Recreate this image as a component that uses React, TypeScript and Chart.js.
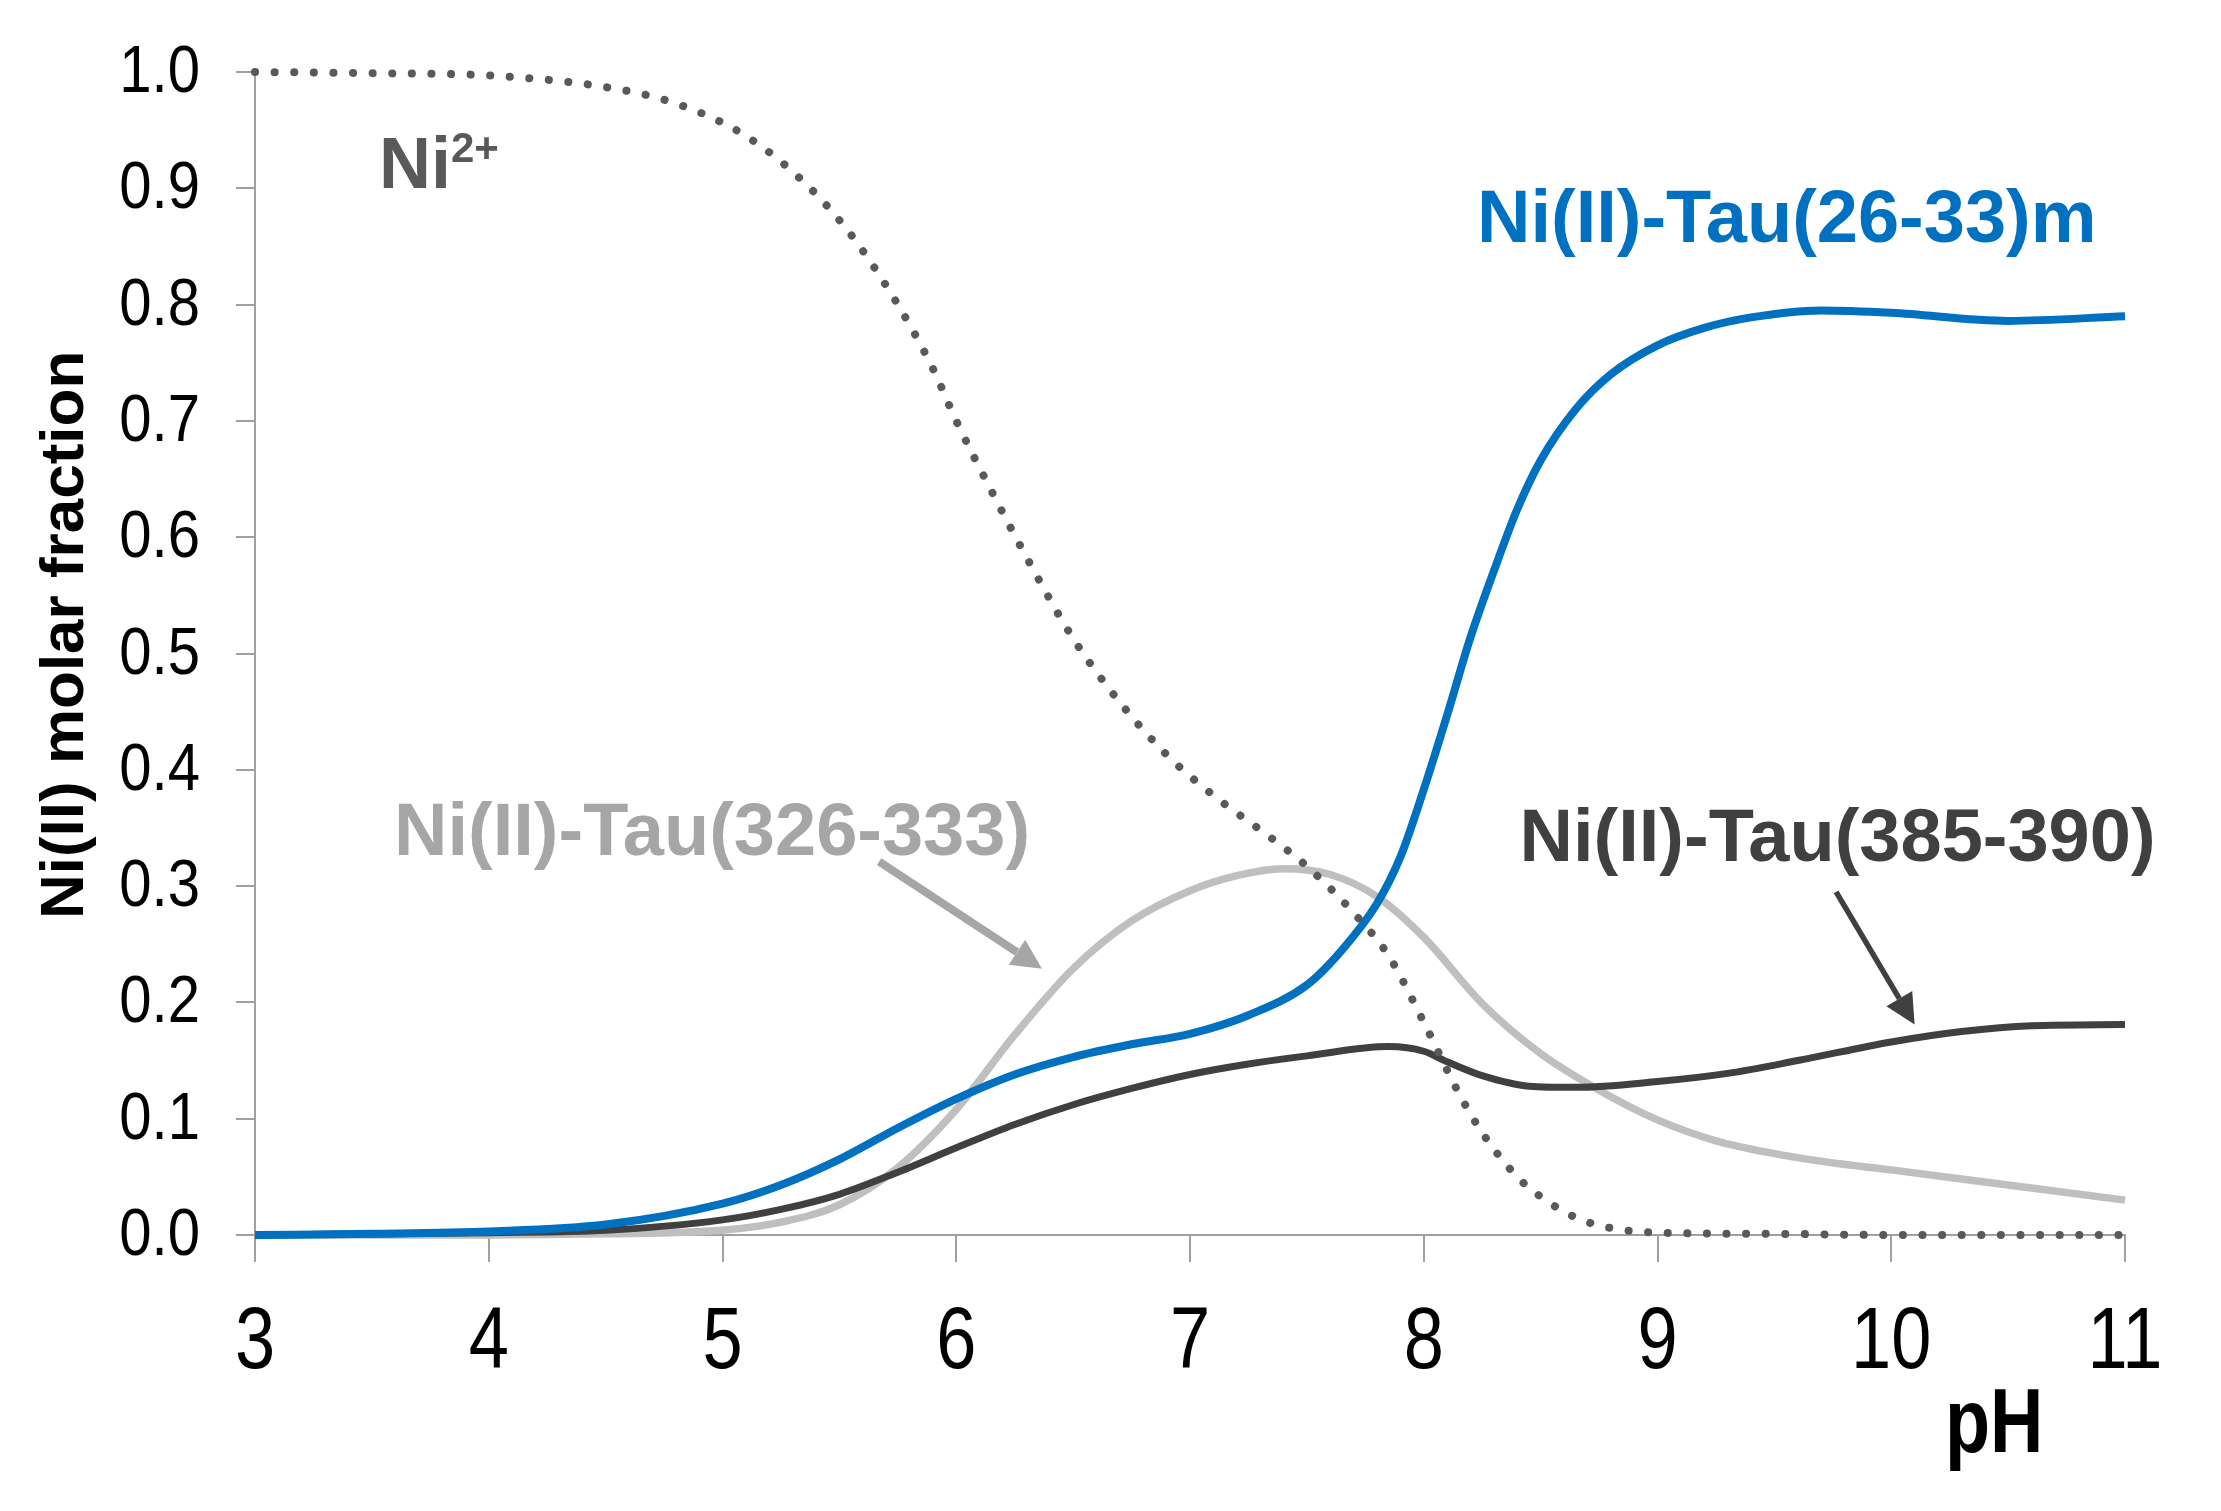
import React, { useEffect, useRef } from 'react';
import { Chart, registerables } from 'chart.js';

Chart.register(...registerables);

// ---------- data ----------
const PH_TICKS = [3, 4, 5, 6, 7, 8, 9, 10, 11];
const FRACTION_TICKS = [0, 0.1, 0.2, 0.3, 0.4, 0.5, 0.6, 0.7, 0.8, 0.9, 1.0];

const NI_FREE_PH = [3, 3.5, 4, 4.5, 4.8, 5.1, 5.35, 5.55, 5.75, 5.9, 6.0, 6.15, 6.3, 6.5, 6.7, 6.9, 7.1, 7.35, 7.5, 7.7, 7.85, 8.0, 8.15, 8.25, 8.4, 8.5, 8.65, 8.8, 9, 9.5, 10, 10.5, 11];
const NI_FREE = [1.0, 0.999, 0.997, 0.987, 0.973, 0.945, 0.905, 0.86, 0.8, 0.745, 0.7, 0.64, 0.583, 0.513, 0.458, 0.413, 0.378, 0.341, 0.317, 0.277, 0.24, 0.183, 0.122, 0.088, 0.05, 0.033, 0.015, 0.006, 0.002, 0.001, 0, 0, 0];

const TAU_26_33_PH = [3, 3.5, 4, 4.5, 5, 5.25, 5.5, 5.75, 6.0, 6.25, 6.5, 6.75, 7.0, 7.25, 7.5, 7.65, 7.8, 7.9, 8.0, 8.1, 8.2, 8.3, 8.4, 8.5, 8.65, 8.8, 9.0, 9.2, 9.4, 9.7, 10, 10.5, 11];
const TAU_26_33 = [0, 0.001, 0.003, 0.009, 0.027, 0.043, 0.065, 0.092, 0.117, 0.138, 0.153, 0.164, 0.173, 0.189, 0.215, 0.245, 0.285, 0.325, 0.383, 0.447, 0.514, 0.571, 0.624, 0.666, 0.71, 0.74, 0.765, 0.78, 0.789, 0.795, 0.793, 0.786, 0.79];

const TAU_385_390_PH = [3, 4, 4.5, 5, 5.25, 5.5, 5.75, 6.0, 6.25, 6.5, 6.75, 7.0, 7.25, 7.5, 7.85, 8.0, 8.1, 8.25, 8.45, 8.65, 9, 9.3, 9.6, 10, 10.3, 10.6, 11];
const TAU_385_390 = [0, 0.002, 0.004, 0.013, 0.022, 0.035, 0.054, 0.075, 0.095, 0.112, 0.126, 0.138, 0.147, 0.154, 0.162, 0.158, 0.149, 0.137, 0.128, 0.127, 0.132, 0.139, 0.15, 0.166, 0.175, 0.18, 0.181];

const TAU_326_333_PH = [3, 4, 4.5, 5, 5.25, 5.5, 5.75, 6.0, 6.25, 6.5, 6.75, 7.0, 7.2, 7.4, 7.6, 7.8, 8.0, 8.25, 8.5, 8.72, 9, 9.25, 9.5, 9.75, 10, 10.5, 11];
const TAU_326_333 = [0, 0, 0.001, 0.004, 0.011, 0.026, 0.058, 0.108, 0.172, 0.229, 0.27, 0.296, 0.309, 0.315, 0.31, 0.291, 0.256, 0.199, 0.156, 0.128, 0.099, 0.081, 0.07, 0.062, 0.056, 0.043, 0.03];

const SERIES_NAMES = ['Ni2+', 'Ni(II)-Tau(26-33)m', 'Ni(II)-Tau(385-390)', 'Ni(II)-Tau(326-333)'];

// ---------- styles ----------
const FONT = "'Liberation Sans', Arial, sans-serif";
const X_NARROW = 0.82;
const Y_NARROW = 0.88;
const BLUE = '#0070C0';
const DARK = '#404040';
const LIGHT = '#BFBFBF';
const LIGHT_TEXT = '#A6A6A6';
const DOTS = '#595959';
const AXIS = '#A0A0A0';

// annotation anchors in data units (pH, fraction)
const LABELS = [
  { text: 'Ni(II)-Tau(26-33)m', ph: 8.228, f: 0.854, color: BLUE },
  { text: 'Ni(II)-Tau(326-333)', ph: 3.595, f: 0.327, color: LIGHT_TEXT },
  { text: 'Ni(II)-Tau(385-390)', ph: 8.41, f: 0.322, color: DARK },
];
const ARROWS = [
  { from: [5.67, 0.321], to: [6.367, 0.229], color: LIGHT_TEXT, width: 8 },
  { from: [9.764, 0.295], to: [10.1, 0.181], color: DARK, width: 5.5 },
];
const NI_LABEL = { ph: 3.53, f: 0.9, supPh: 3.838, supF: 0.923 };

function pts(xs: number[], ys: number[]) {
  return xs.map((x, i) => ({ x, y: ys[i] }));
}

function narrowText(ctx: CanvasRenderingContext2D, text: string, px: number, py: number, align: CanvasTextAlign, k: number) {
  ctx.save();
  ctx.translate(px, py);
  ctx.scale(k, 1);
  ctx.textAlign = align;
  ctx.fillText(text, 0, 0);
  ctx.restore();
}

const annotations = {
  id: 'annotations',
  afterDraw(chart: any) {
    const { ctx, scales, chartArea } = chart;
    const x = scales.x;
    const y = scales.y;
    ctx.save();
    ctx.textBaseline = 'alphabetic';
    // tick labels (from the scales' own ticks)
    ctx.fillStyle = '#000000';
    ctx.font = `88px ${FONT}`;
    for (const t of x.ticks) {
      narrowText(ctx, String(t.value), x.getPixelForValue(t.value), chartArea.bottom + 133, 'center', X_NARROW);
    }
    ctx.font = `66px ${FONT}`;
    for (const t of y.ticks) {
      narrowText(ctx, Number(t.value).toFixed(1), chartArea.left - 55, y.getPixelForValue(t.value) + 20, 'right', Y_NARROW);
    }
    // axis titles
    ctx.font = `bold 90px ${FONT}`;
    narrowText(ctx, 'pH', x.getPixelForValue(10.23), chartArea.bottom + 217, 'left', X_NARROW);
    ctx.save();
    ctx.translate(chartArea.left - 189, y.getPixelForValue(0.516));
    ctx.rotate(-Math.PI / 2);
    ctx.textAlign = 'center';
    ctx.textBaseline = 'middle';
    ctx.font = `bold 62px ${FONT}`;
    ctx.fillText('Ni(II) molar fraction', 0, 0);
    ctx.restore();

    ctx.textAlign = 'left';
    // series labels
    ctx.font = `bold 74px ${FONT}`;
    for (const l of LABELS) {
      ctx.fillStyle = l.color;
      ctx.fillText(l.text, x.getPixelForValue(l.ph), y.getPixelForValue(l.f));
    }
    // Ni2+
    ctx.fillStyle = '#595959';
    ctx.font = `bold 72px ${FONT}`;
    ctx.fillText('Ni', x.getPixelForValue(NI_LABEL.ph), y.getPixelForValue(NI_LABEL.f));
    ctx.font = `bold 42px ${FONT}`;
    ctx.fillText('2+', x.getPixelForValue(NI_LABEL.supPh), y.getPixelForValue(NI_LABEL.supF));
    // arrows
    for (const a of ARROWS) {
      const x0 = x.getPixelForValue(a.from[0]);
      const y0 = y.getPixelForValue(a.from[1]);
      const x1 = x.getPixelForValue(a.to[0]);
      const y1 = y.getPixelForValue(a.to[1]);
      const ang = Math.atan2(y1 - y0, x1 - x0);
      const head = 30;
      const half = 15;
      const bx = x1 - head * Math.cos(ang);
      const by = y1 - head * Math.sin(ang);
      ctx.strokeStyle = a.color;
      ctx.fillStyle = a.color;
      ctx.lineWidth = a.width;
      ctx.lineCap = 'butt';
      ctx.beginPath();
      ctx.moveTo(x0, y0);
      ctx.lineTo(bx, by);
      ctx.stroke();
      ctx.beginPath();
      ctx.moveTo(x1, y1);
      ctx.lineTo(bx + half * Math.sin(ang), by - half * Math.cos(ang));
      ctx.lineTo(bx - half * Math.sin(ang), by + half * Math.cos(ang));
      ctx.closePath();
      ctx.fill();
    }
    ctx.restore();
  },
};

export default function App() {
  const ref = useRef<HTMLCanvasElement | null>(null);
  useEffect(() => {
    if (!ref.current) return;
    const chart = new Chart(ref.current, {
      type: 'line',
      data: {
        datasets: [
          {
            label: SERIES_NAMES[0],
            data: pts(NI_FREE_PH, NI_FREE),
            borderColor: DOTS,
            borderWidth: 8,
            borderDash: [0.1, 19.5],
            borderCapStyle: 'round',
            order: 0,
          },
          {
            label: SERIES_NAMES[1],
            data: pts(TAU_26_33_PH, TAU_26_33),
            borderColor: BLUE,
            borderWidth: 8,
            order: 1,
          },
          {
            label: SERIES_NAMES[2],
            data: pts(TAU_385_390_PH, TAU_385_390),
            borderColor: DARK,
            borderWidth: 7,
            order: 2,
          },
          {
            label: SERIES_NAMES[3],
            data: pts(TAU_326_333_PH, TAU_326_333),
            borderColor: LIGHT,
            borderWidth: 7.5,
            order: 3,
          },
        ] as any,
      },
      options: {
        animation: false,
        responsive: false,
        devicePixelRatio: 1,
        clip: false as any,
        layout: { padding: { top: 72, right: 96, left: 0, bottom: 0 } },
        elements: {
          point: { radius: 0, hoverRadius: 0 },
          line: { fill: false, cubicInterpolationMode: 'monotone' },
        },
        plugins: { legend: { display: false }, tooltip: { enabled: false }, title: { display: false } },
        scales: {
          x: {
            type: 'linear',
            min: PH_TICKS[0],
            max: PH_TICKS[PH_TICKS.length - 1],
            afterFit: (s: any) => { s.height = 276; },
            afterBuildTicks: (s: any) => { s.ticks = PH_TICKS.map((v) => ({ value: v })); },
            ticks: { display: false },
            grid: { drawOnChartArea: false, drawTicks: true, tickLength: 27, color: AXIS, lineWidth: 2 },
            border: { display: true, color: AXIS, width: 2 },
          },
          y: {
            type: 'linear',
            min: 0,
            max: 1,
            afterFit: (s: any) => { s.width = 255; },
            afterBuildTicks: (s: any) => { s.ticks = FRACTION_TICKS.map((v) => ({ value: v })); },
            ticks: { display: false },
            grid: { drawOnChartArea: false, drawTicks: true, tickLength: 19, color: AXIS, lineWidth: 2 },
            border: { display: true, color: AXIS, width: 2 },
          },
        },
      } as any,
      plugins: [annotations],
    });
    return () => chart.destroy();
  }, []);
  return (
    <div style={{ position: 'fixed', left: 0, top: 0, width: 2221, height: 1511, background: '#ffffff' }}>
      <canvas ref={ref} width={2221} height={1511} style={{ width: 2221, height: 1511, display: 'block' }} />
    </div>
  );
}
